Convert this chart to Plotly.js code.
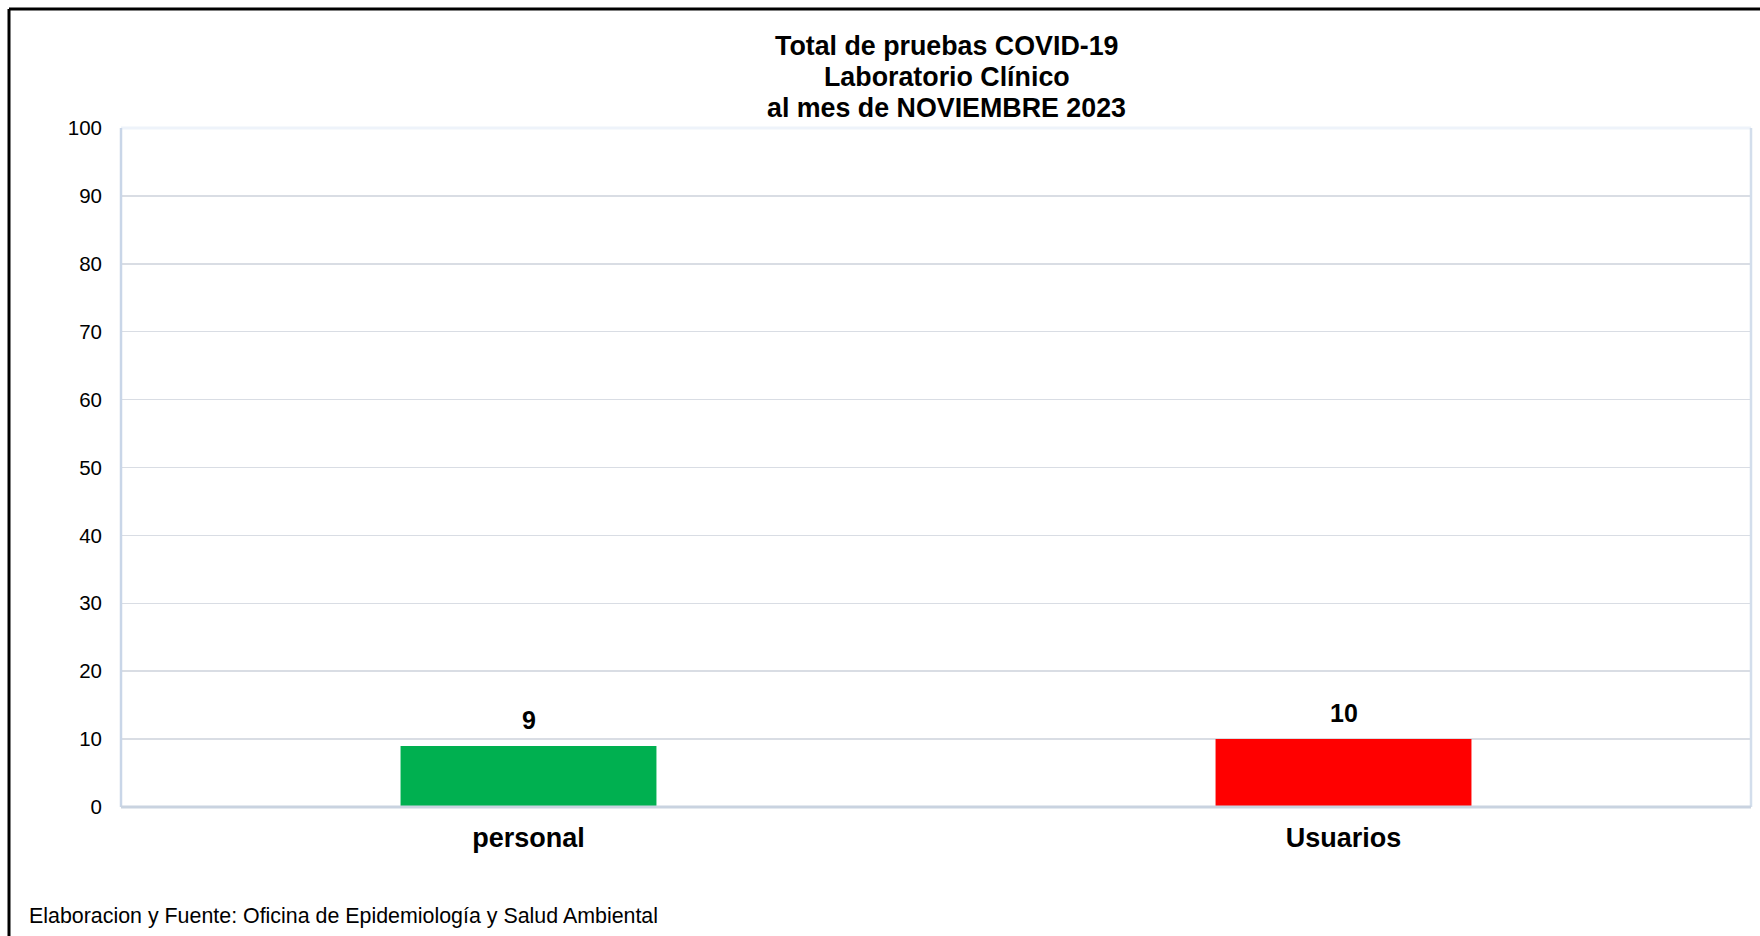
<!DOCTYPE html>
<html>
<head>
<meta charset="utf-8">
<script src="https://cdn.plot.ly/plotly-3.0.1.min.js"></script>
<style>
html,body{margin:0;padding:0;background:#fff;}
#chart{width:1760px;height:936px;}
</style>
</head>
<body>
<div id="chart"></div>
<script>
const categories = ["personal", "Usuarios"];
const values = [9, 10];
const barColors = ["#00b050", "#ff0000"];
const yTicks = [0, 10, 20, 30, 40, 50, 60, 70, 80, 90, 100];
const titleLines = ["Total de pruebas COVID-19", "Laboratorio Clínico", "al mes de NOVIEMBRE 2023"];
const footer = "Elaboracion y Fuente: Oficina de Epidemiología y Salud Ambiental";

const W = 1760, H = 936;
const m = {l: 121, r: 9, t: 128, b: 129};
const pw = W - m.l - m.r, ph = H - m.t - m.b;
const px = x => (x - m.l) / pw;          // pixel -> paper x
const py = y => (H - m.b - y) / ph;      // pixel -> paper y

const font = "Liberation Sans, Arial, sans-serif";

const trace = {
  type: "bar",
  x: categories,
  y: values,
  marker: {color: barColors, line: {width: 0}},
  hoverinfo: "x+y"
};

const titleY = [46, 77, 108];
const annotations = titleLines.map((t, i) => ({
  text: "<b>" + t + "</b>",
  xref: "paper", yref: "paper",
  x: px(947), y: py(titleY[i]),
  xanchor: "center", yanchor: "middle",
  showarrow: false,
  font: {family: font, size: 26.8, color: "#000"}
}));

categories.forEach((c, i) => {
  annotations.push({
    text: "<b>" + values[i] + "</b>",
    xref: "x", yref: "y",
    x: c, y: values[i],
    xanchor: "center", yanchor: "middle",
    yshift: 26,
    showarrow: false,
    font: {family: font, size: 25, color: "#000"}
  });
});

annotations.push({
  text: footer,
  xref: "paper", yref: "paper",
  x: px(27), y: py(916),
  xanchor: "left", yanchor: "middle",
  showarrow: false,
  font: {family: font, size: 21.4, color: "#000"}
});

const layout = {
  width: W, height: H,
  margin: m,
  paper_bgcolor: "#fff",
  plot_bgcolor: "#fff",
  showlegend: false,
  bargap: 0.686,
  font: {family: font, color: "#000"},
  xaxis: {
    type: "category",
    tickfont: {family: font, size: 27, color: "#000"},
    tickprefix: "<b>", ticksuffix: "</b>",
    showgrid: false,
    showline: false,
    ticks: "",
    ticklabelstandoff: 12
  },
  yaxis: {
    range: [0, 100],
    tickvals: yTicks,
    ticktext: yTicks.map(String),
    tickfont: {family: font, size: 20.5, color: "#000"},
    showgrid: true,
    gridcolor: "#d9dde4",
    gridwidth: 1.5,
    zeroline: false,
    showline: false,
    ticks: "",
    ticklabelstandoff: 18
  },
  shapes: [
    {type: "line", xref: "paper", yref: "paper", x0: 0, x1: 1, y0: 1, y1: 1, line: {color: "#eef3fa", width: 3}},
    {type: "line", xref: "paper", yref: "paper", x0: 1, x1: 1, y0: 0, y1: 1, line: {color: "#d3deec", width: 2.5}},
    {type: "line", xref: "paper", yref: "paper", x0: 0, x1: 0, y0: 0, y1: 1, line: {color: "#c9d6e8", width: 2.5}},
    {type: "line", xref: "paper", yref: "paper", x0: 0, x1: 1, y0: 0, y1: 0, line: {color: "#c9d3e0", width: 3}},
    {type: "line", xref: "paper", yref: "paper", x0: px(9), x1: px(W), y0: py(9), y1: py(9), line: {color: "#000", width: 3}},
    {type: "line", xref: "paper", yref: "paper", x0: px(9), x1: px(9), y0: py(9), y1: py(H), line: {color: "#000", width: 3}}
  ],
  annotations: annotations
};

Plotly.newPlot("chart", [trace], layout, {displayModeBar: false, staticPlot: true});
</script>
</body>
</html>
